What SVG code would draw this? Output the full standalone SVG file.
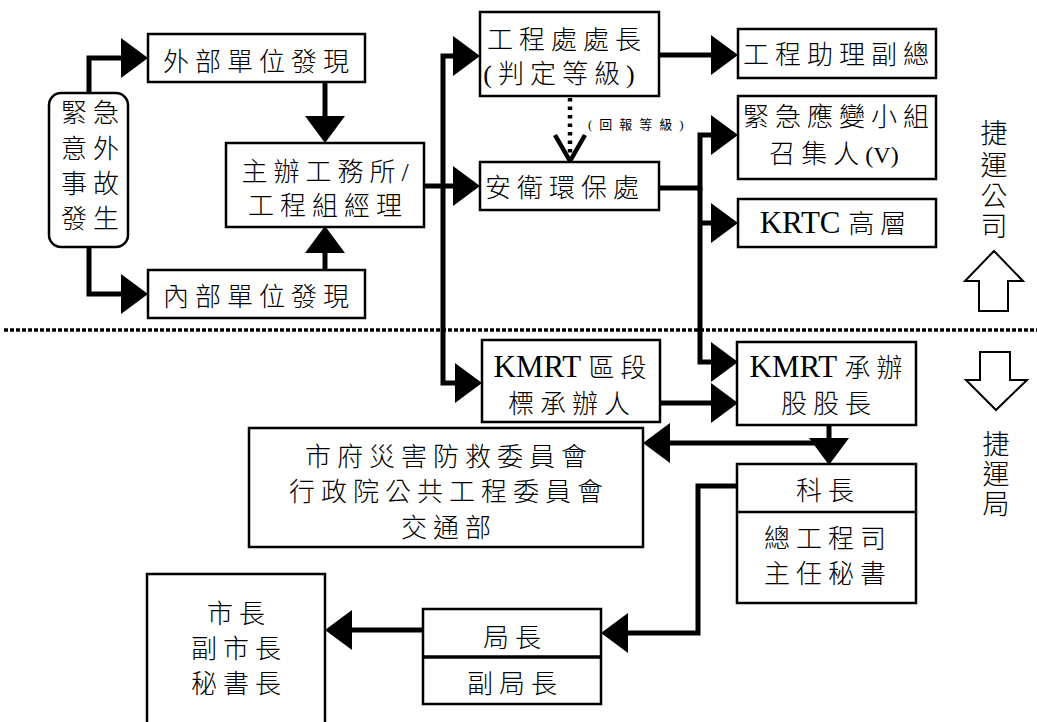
<svg xmlns="http://www.w3.org/2000/svg" width="1037" height="722" viewBox="0 0 1037 722">
<style>
.b{fill:#fff;stroke:#000;stroke-width:2.5}
.d{fill:none;stroke:#000;stroke-width:2.5}
.t{font-family:"Liberation Serif","Noto Sans CJK TC",serif;font-size:26px;font-weight:300;letter-spacing:6px;text-anchor:middle;fill:#000}
.lat{font-size:31px;letter-spacing:0}
.v{font-size:24px;letter-spacing:0}
.s{font-family:"Liberation Serif","Noto Sans CJK TC",serif;font-size:13px;letter-spacing:7px;fill:#000}
.c{fill:none;stroke:#000;stroke-width:5}
.dot{fill:none;stroke:#000;stroke-width:4.5;stroke-dasharray:3.5 5}
.sep{fill:none;stroke:#000;stroke-width:3.5;stroke-dasharray:4 2}
.ha{fill:#fff;stroke:#000;stroke-width:2}
</style>
<defs>
<marker id="ah" markerUnits="userSpaceOnUse" markerWidth="27" markerHeight="40" viewBox="0 0 27 40" refX="0" refY="20" orient="auto">
<path d="M0,0 L27,20 L0,40 Z" fill="#000"/>
</marker>
</defs>
<rect width="1037" height="722" fill="#fff"/>
<line class="sep" x1="4" y1="330" x2="1037" y2="330"/>
<g id="connectors">
<path class="c" d="M89,93 V58 H121" marker-end="url(#ah)"/>
<path class="c" d="M89,247 V294 H121" marker-end="url(#ah)"/>
<path class="c" d="M325,82 V116" marker-end="url(#ah)"/>
<path class="c" d="M325,270 V253" marker-end="url(#ah)"/>
<path class="c" d="M424,186 H453" marker-end="url(#ah)"/>
<path class="c" d="M443,186 V56 H453" marker-end="url(#ah)"/>
<path class="c" d="M443,186 V383 H455" marker-end="url(#ah)"/>
<path class="c" d="M659,55 H711" marker-end="url(#ah)"/>
<path class="dot" d="M570,98 V158"/>
<path fill="none" stroke="#000" stroke-width="4.5" d="M555,135 L570,161 L585,135"/>
<path class="c" d="M659,188 H700 V135 H711" marker-end="url(#ah)"/>
<path class="c" d="M700,188 V362 H711" marker-end="url(#ah)"/>
<path class="c" d="M700,223 H711" marker-end="url(#ah)"/>
<path class="c" d="M660,403 H711" marker-end="url(#ah)"/>
<path class="c" d="M829,425 V438" marker-end="url(#ah)"/>
<path class="c" d="M831,443 H670" marker-end="url(#ah)"/>
<path class="c" d="M737,486 H698 V633 H628" marker-end="url(#ah)"/>
<path class="c" d="M423,630 H352" marker-end="url(#ah)"/>
<text class="s" x="588" y="129">(回報等級)</text>
</g>
<g id="n-emergency">
<rect class="b" x="49" y="93" width="79" height="154" rx="12"/>
<text class="t" x="74 106" y="122" style="letter-spacing:0">緊急</text>
<text class="t" x="74 106" y="158" style="letter-spacing:0">意外</text>
<text class="t" x="74 106" y="193" style="letter-spacing:0">事故</text>
<text class="t" x="74 106" y="228" style="letter-spacing:0">發生</text>
</g>
<g id="n-external">
<rect class="b" x="148" y="34" width="217" height="48"/>
<text class="t" x="259" y="71">外部單位發現</text>
</g>
<g id="n-internal">
<rect class="b" x="148" y="270" width="217" height="48"/>
<text class="t" x="259" y="306">內部單位發現</text>
</g>
<g id="n-office">
<rect class="b" x="226" y="143" width="198" height="84"/>
<text class="t" x="328" y="181">主辦工務所/</text>
<text class="t" x="328" y="215">工程組經理</text>
</g>
<g id="n-chief">
<rect class="b" x="480" y="12" width="179" height="84"/>
<text class="t" x="567" y="49">工程處處長</text>
<text class="t" x="562" y="83">(判定等級)</text>
</g>
<g id="n-safety">
<rect class="b" x="480" y="162" width="179" height="48"/>
<text class="t" x="565" y="197">安衛環保處</text>
</g>
<g id="n-vp">
<rect class="b" x="738" y="29" width="198" height="49"/>
<text class="t" x="839" y="64">工程助理副總</text>
</g>
<g id="n-response">
<rect class="b" x="738" y="96" width="198" height="83"/>
<text class="t" x="839" y="126">緊急應變小組</text>
<text class="t" x="834" y="163">召集人<tspan class="v">(V)</tspan></text>
</g>
<g id="n-krtc">
<rect class="b" x="738" y="199" width="198" height="48"/>
<text class="t" x="836" y="233"><tspan class="lat">KRTC </tspan>高層</text>
</g>
<g id="n-kmrt-sec">
<rect class="b" x="482" y="340" width="178" height="82"/>
<text class="t" x="573" y="377"><tspan class="lat">KMRT </tspan>區段</text>
<text class="t" x="572" y="413">標承辦人</text>
</g>
<g id="n-kmrt-div">
<rect class="b" x="737" y="342" width="179" height="83"/>
<text class="t" x="829" y="377"><tspan class="lat">KMRT </tspan>承辦</text>
<text class="t" x="829" y="413">股股長</text>
</g>
<g id="n-committee">
<rect class="b" x="249" y="428" width="394" height="119"/>
<text class="t" x="449" y="466">市府災害防救委員會</text>
<text class="t" x="449" y="501">行政院公共工程委員會</text>
<text class="t" x="449" y="537">交通部</text>
</g>
<g id="n-section">
<rect class="b" x="737" y="464" width="179" height="139"/>
<line class="d" x1="737" y1="512" x2="916" y2="512"/>
<text class="t" x="828" y="500">科長</text>
<text class="t" x="828" y="548">總工程司</text>
<text class="t" x="828" y="583">主任秘書</text>
</g>
<g id="n-director">
<rect class="b" x="423" y="609" width="178" height="95"/>
<line fill="none" stroke="#000" stroke-width="3.5" x1="423" y1="657" x2="601" y2="657"/>
<text class="t" x="515" y="647">局長</text>
<text class="t" x="515" y="693">副局長</text>
</g>
<g id="n-mayor">
<rect class="b" x="147" y="574" width="178" height="160"/>
<text class="t" x="239" y="623">市長</text>
<text class="t" x="239" y="658">副市長</text>
<text class="t" x="239" y="693">秘書長</text>
</g>
<g id="label-company">
<text class="t" x="994 994 994 994" y="143 175 206 236" style="letter-spacing:0;font-size:27px">捷運公司</text>
<polygon class="ha" points="994,251 1023,281 1008,281 1008,311 979,311 979,281 965,281"/>
</g>
<g id="label-bureau">
<polygon class="ha" points="980,352 1010,352 1010,380 1027,380 996,410 966,380 980,380"/>
<text class="t" x="996 996 996" y="454 484 514" style="letter-spacing:0;font-size:27px">捷運局</text>
</g>
</svg>
